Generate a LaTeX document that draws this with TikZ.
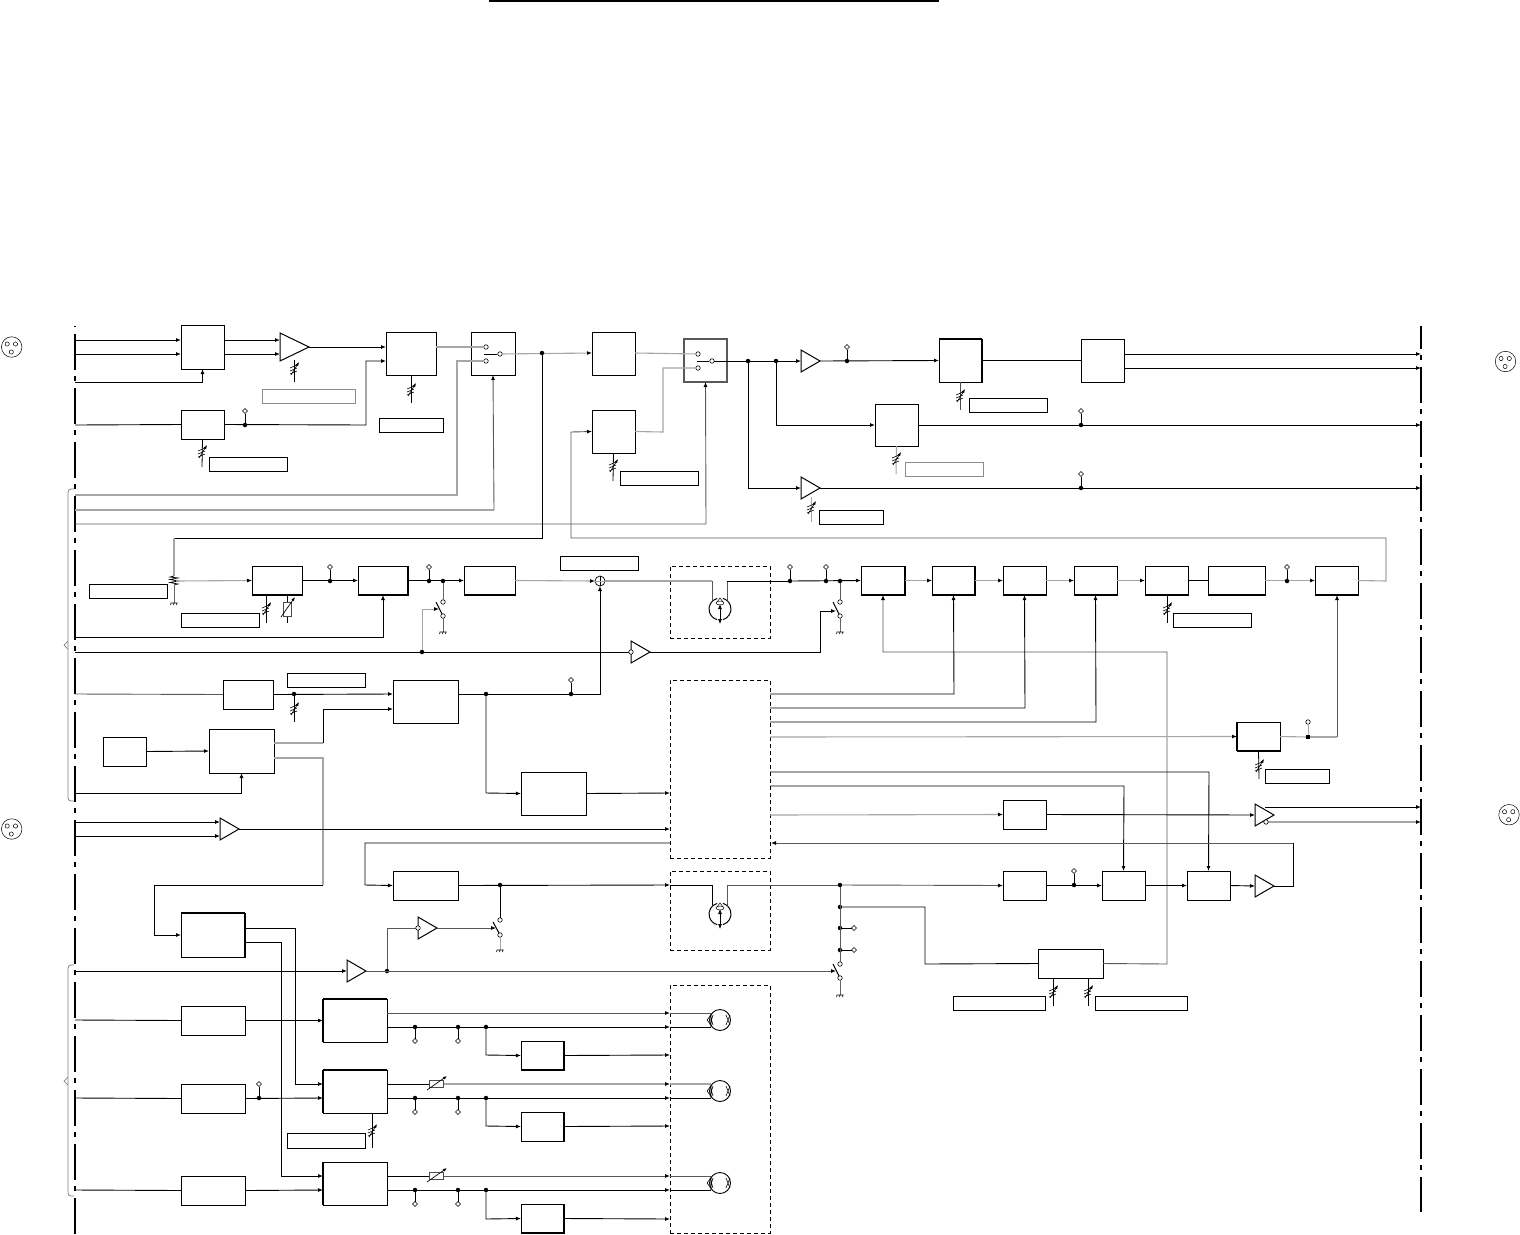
\documentclass[tikz,border=0pt]{standalone}
\usetikzlibrary{arrows.meta,shapes.geometric,calc}
\definecolor{lg}{gray}{0.65}
\definecolor{dg}{gray}{0.35}
\tikzset{
  x=1pt,y=-1pt,
  wk/.style={draw=black,line width=0.9pt},
  wg/.style={draw=lg,line width=1.1pt},
  wd/.style={draw=dg,line width=0.9pt},
  ar/.style={-{Latex[length=5pt,width=4pt,color=black]}},
  bxs/.style={draw=black,line width=0.9pt,rectangle,inner sep=0pt,outer sep=0pt},
  thk/.style={line width=1.3pt},
  lbl/.style={draw=black,line width=0.8pt,rectangle,inner sep=0pt,outer sep=0pt},
  grb/.style={draw=black!45},
  dsh/.style={draw=black,line width=0.8pt,dash pattern=on 4pt off 3pt,rectangle,inner sep=0pt,outer sep=0pt},
  jnn/.style={circle,fill=black,inner sep=0pt,minimum size=4.5pt,outer sep=0pt},
  tmn/.style={diamond,draw=black,fill=white,line width=0.5pt,inner sep=0pt,minimum size=5pt,outer sep=0pt},
  opc/.style={circle,draw=black,fill=white,line width=0.6pt,inner sep=0pt,minimum size=4.5pt,outer sep=0pt},
  trin/.style={isosceles triangle,isosceles triangle stretches,shape border rotate=0,draw=black,line width=1pt,inner sep=0pt,outer sep=0pt,fill=white},
  edge1/.style={draw=black,line width=1.6pt,dash pattern=on 36pt off 6pt on 5pt off 7pt,dash phase=46pt},
  edge2/.style={draw=black,line width=1.1pt,dash pattern=on 36pt off 6pt on 5pt off 7pt,dash phase=13pt},
  brc/.style={draw=black!50,line width=0.8pt,rounded corners=3pt},
  sid/.style={draw=black,line width=1.7pt,line cap=square},
}
\newcommand\bx[6][]{\node[bxs,#1,minimum width={(#5-#3)*1pt},minimum height={(#6-#4)*1pt}] (#2) at ({(#3+#5)/2},{(#4+#6)/2}) {};}
\newcommand\lb[6][]{\node[lbl,#1,minimum width={(#5-#3)*1pt},minimum height={(#6-#4)*1pt}] (#2) at ({(#3+#5)/2},{(#4+#6)/2}) {};}
\newcommand\db[5]{\node[dsh,minimum width={(#4-#2)*1pt},minimum height={(#5-#3)*1pt}] (#1) at ({(#2+#4)/2},{(#3+#5)/2}) {};}
% heavier box sides
\newcommand\botl[1]{\draw[sid] (#1.south west) -- (#1.south east);}
\newcommand\topl[1]{\draw[sid] (#1.north west) -- (#1.north east);}
\newcommand\lefl[1]{\draw[sid] (#1.south west) -- (#1.north west);}
\newcommand\rigl[1]{\draw[sid] (#1.south east) -- (#1.north east);}
% triangle: name, x base, y centre, half height, x apex
\newcommand\trg[5]{\node[trin,minimum width={2*#4*1pt},minimum height={(#5-#2)*1pt},anchor=lower side] (#1) at (#2,#3) {};}
\newcommand\jn[3]{\node[jnn] (#1) at (#2,#3) {};}
\newcommand\stub[5]{\node[jnn] (#1) at (#2,#3) {};\node[tmn] (#1t) at (#4,#5) {};\draw[wk,line width=0.8pt] (#1) -- (#1t);}
\newcommand\opn[3]{\node[opc] (#1) at (#2,#3) {};}
% variable resistor symbol
\newcommand\vrs[2]{\begin{scope}[shift={(#1,#2)}]
  \draw[black,line width=0.6pt] (-4,-1)--(3,-4) (-4,2)--(3,-1) (-4,5)--(3,2);
  \draw[black,line width=0.6pt,-{Latex[length=4pt,width=3pt]}] (-3,6)--(5,-7);
\end{scope}}
% thermistor style box with arrow, horizontal
\newcommand\thm[2]{\begin{scope}[shift={(#1,#2)}]
  \draw[black!70,fill=white,line width=0.7pt] (-7,-3.5) rectangle (7,3.5);
  \draw[black,line width=0.7pt,-{Latex[length=4pt,width=3pt]}] (-9,6)--(11,-8);
\end{scope}}
\newcommand\thmv[2]{\begin{scope}[shift={(#1,#2)}]
  \draw[black!70,fill=white,line width=0.7pt] (-4,-7) rectangle (4,7);
  \draw[black,line width=0.7pt,-{Latex[length=4pt,width=3pt]}] (-6,8)--(8,-12);
\end{scope}}
\newcommand\gnd[2]{\draw[black,line width=0.6pt] (#1-3.5,#2) -- (#1+3.5,#2) (#1-3,#2) -- (#1-3.5,#2+2) (#1,#2) -- (#1-0.5,#2+2) (#1+3,#2) -- (#1+2.5,#2+2);}
% switch: open contacts at y0,y1 on x, blade with control
\newcommand\blade[4]{\draw[black,line width=1pt] (#1,#2) -- (#3,#4);}
\newcommand\mech[3]{\node[circle,inner sep=0pt,minimum size=22pt] (#1) at (#2,#3) {};
  \draw[black,line width=1pt] (#2,#3) ++(105:11pt) arc[start angle=105,end angle=255,radius=11pt];
  \draw[black,line width=1pt] (#2,#3) ++(-75:11pt) arc[start angle=-75,end angle=75,radius=11pt];
  \draw[black,line width=0.5pt] (#2,#3-6) ellipse [x radius=4,y radius=2];
  \draw[black,line width=0.5pt] (#2-3,#3-7)--(#2,#3-11)--(#2+3,#3-7);
  \draw[black,line width=0.7pt,{Latex[length=5pt,width=4pt]}-{Latex[length=5pt,width=4pt]}] (#2,#3-5)--(#2,#3+15);}
\newcommand\crt[3]{\node[circle,draw=black,line width=0.9pt,inner sep=0pt,minimum size=21pt,outer sep=0pt] (#1) at (#2,#3) {};
  \draw[black,line width=0.6pt] (#2-13,#3)--(#2-9,#3-5) (#2-13,#3)--(#2-9,#3+5) (#2-9,#3-7)--(#2-9,#3+7) (#2-10,#3-5)--(#2-7,#3+5) (#2-10,#3+5)--(#2-7,#3-5);
  \draw[black,line width=0.6pt] (#2+6,#3-5)--(#2+10,#3+5) (#2+6,#3+5)--(#2+10,#3-5);}
\newcommand\plug[3]{\node[circle,draw=black,line width=0.5pt,inner sep=0pt,minimum size=20.5pt,outer sep=0pt] (#1) at (#2,#3) {};
  \draw[black,line width=0.5pt] (#2-4.5,#3-3) circle [radius=2.1] (#2+3.8,#3-3) circle [radius=2.1] (#2-0.4,#3+5) circle [radius=2.1];}
\begin{document}
\begin{tikzpicture}
\useasboundingbox (0,0) rectangle (1520,1234);
\fill[white] (0,0) rectangle (1520,1234);
% title rule
\coordinate (ta) at (489,1);\coordinate (tb) at (939,1);
\draw[black,line width=1.4pt] (ta) -- (tb);
% edges
\coordinate (lt) at (75,326);\coordinate (lb) at (75,1234);
\coordinate (rt) at (1421,326);\coordinate (rb) at (1421,1212);
\draw[edge1] (lt) -- (lb);
\draw[edge2] (rt) -- (rb);
% plugs
\plug{p1}{11.7}{347}\plug{p2}{11.7}{829}\plug{p3}{1505.5}{361.5}\plug{p4}{1509}{814.7}
% braces
\draw[brc] (74,489) -- (68,489) -- (68,645);\draw[brc] (68,645) -- (68,801) -- (74,801);
\draw[black!50,line width=0.7pt] (68,641) -- (64,645) -- (68,649);
\draw[brc] (74,965) -- (68,965) -- (68,1081);\draw[brc] (68,1081) -- (68,1196) -- (74,1196);
\draw[black!50,line width=0.7pt] (68,1077) -- (64,1081) -- (68,1085);
% boxes
\bx{b1}{181}{325}{224}{369}
\bx{b2}{181}{410}{224}{439}
\bx{b3}{386}{332}{436}{375}
\bx{sw1}{471}{332}{515}{375}
\bx{b4}{592}{332}{635}{375}
\bx[draw=dg,thk]{sw2}{684}{339}{727}{382}
\bx{b5}{939}{339}{982}{382}
\bx{b6}{1081}{339}{1124}{382}
\bx{b7}{875}{404}{918}{446}
\bx{b8}{592}{410}{635}{453}
\bx{b10}{252}{566}{302}{595}
\bx{b11}{358}{566}{408}{595}
\bx{b12}{464}{566}{515}{595}
\bx{b13}{861}{566}{905}{595}
\bx{b14}{932}{566}{975}{595}
\bx{b15}{1003}{566}{1046}{595}
\bx{b16}{1074}{566}{1117}{595}
\bx{b17}{1145}{566}{1188}{595}
\bx{b18}{1208}{566}{1265}{595}
\bx{b19}{1315}{566}{1358}{595}
\bx{b20}{223}{680}{273}{709}
\bx{b21}{393}{680}{458}{723}
\bx{b22}{103}{737}{146}{766}
\bx{b23}{209}{729}{274}{773}
\bx{b24}{521}{772}{586}{815}
\bx{b25}{1237}{722}{1280}{751}
\bx{b26}{1003}{800}{1046}{829}
\bx{b27}{393}{871}{458}{900}
\bx{b28}{1003}{871}{1046}{900}
\bx{b29}{1102}{871}{1145}{900}
\bx{b30}{1187}{871}{1230}{900}
\bx{b31}{181}{913}{245}{957}
\bx{b32}{1038}{949}{1103}{978}
\bx{b33}{181}{1006}{245}{1035}
\bx{b34}{323}{999}{387}{1042}
\bx{b35}{521}{1041}{564}{1070}
\bx{b36}{181}{1084}{245}{1113}
\bx{b37}{323}{1070}{387}{1113}
\bx{b38}{521}{1112}{564}{1141}
\bx{b39}{181}{1176}{245}{1205}
\bx{b40}{323}{1162}{387}{1205}
\bx{b41}{521}{1204}{564}{1233}
% heavy sides
\topl{b5}\rigl{b5}
\botl{b10}\botl{b11}\rigl{b11}\botl{b12}\botl{b13}\rigl{b13}\botl{b14}\rigl{b14}\botl{b15}\botl{b16}\botl{b17}\botl{b18}\botl{b19}
\botl{b25}\lefl{b25}
\topl{b31}\rigl{b31}\topl{b34}\lefl{b34}\rigl{b35}\botl{b35}\topl{b37}\lefl{b37}\rigl{b38}\lefl{b40}\rigl{b41}\botl{b41}
% label boxes
\lb[grb]{l1}{262}{389}{355}{403}
\lb{l2}{379}{418}{443}{432}
\lb{l3}{209}{457}{287}{471}
\lb{l4}{620}{471}{698}{485}
\lb{l5}{969}{398}{1047}{412}
\lb[grb]{l6}{905}{462}{983}{476}
\lb{l7}{819}{510}{883}{524}
\lb{l8}{89}{584}{167}{598}
\lb{l9}{181}{613}{259}{627}
\lb{l10}{560}{556}{638}{570}
\lb{l11}{1173}{613}{1251}{627}
\lb{l12}{287}{673}{365}{687}
\lb{l13}{1265}{769}{1329}{783}
\lb{l14}{953}{996}{1045}{1010}
\lb{l15}{1095}{996}{1187}{1010}
\lb{l16}{287}{1133}{365}{1148}
% dashed
\db{d1}{670}{566}{770}{638}
\db{d2}{670}{680}{770}{858}
\db{d3}{670}{871}{770}{950}
\db{d4}{670}{985}{770}{1233}
% triangles
\trg{t1}{280}{347}{14}{309}
\trg{t2}{801}{361}{11}{820}
\trg{t3}{801}{488}{11}{820}
\trg{t4}{631}{652}{11}{650}
\trg{t5}{220}{829}{11}{239}
\trg{t6}{1255}{815}{11}{1274}
\trg{t7}{1255}{886}{11}{1274}
\trg{t8}{418}{928}{11}{437}
\trg{t9}{347}{971}{11}{366}
% mech + crt
\mech{m1}{720}{609}
\mech{m2}{720}{914}
\crt{c1}{720}{1020}\crt{c2}{720}{1091}\crt{c3}{720}{1183}
% sum
\node[circle,draw=black,line width=0.7pt,inner sep=0pt,minimum size=10pt,outer sep=0pt] (sum) at (600,581) {};
\draw[black,line width=0.6pt] (sum.north)--(sum.south);
\draw[lg,line width=0.6pt] (sum.west)--(sum.east);
% ---- top wires
\draw[wk,ar] (75,340) -- (0,340 -| b1.west);
\draw[wk,ar] (75,354) -- (0,354 -| b1.west);
\draw[wk,ar] (75,382) -| (b1.south);
\draw[wk,ar] (0,340 -| b1.east) -- (0,340 -| t1.west);
\draw[wk,ar] (0,354 -| b1.east) -- (0,354 -| t1.west);
\draw[wk,ar] (t1.east) -- (0,347 -| b3.west);
\draw[wk] (75,425) -- (b2.west);
\stub{j1}{245}{425}{245}{411}
\draw[wk,ar] (b2.east) -- (366,425) -- (366,361) -- (0,361 -| b3.west);
% sw1
\opn{s1a}{486}{347}\opn{s1b}{486}{361}\opn{s1c}{500}{354}
\blade{484}{354}{497}{354}
\draw[wg,line width=1.4pt] (0,347 -| b3.east) -- (s1a);
\draw[wg] (75,495) -- (457,495) -- (457,361) -- (s1b);
\draw[wg,line width=1.4pt] (75,510) -- (494,510);
\draw[wd,ar] (494,510) -- (494,375 -| sw1.south);
\draw[wd,ar] (75,524) -- (706,524) -- (sw2.south);
\draw[wg,ar] (s1c) -- (0,353 -| b4.west);
\jn{j2}{542}{353}
\draw[wk] (j2) -- (542,538) -- (174,538);
\draw[wg] (174,538) -- (174,576);
\draw[wk,line width=0.7pt] (174,576) -- (170,577) -- (178,578) -- (170,579.5) -- (178,581) -- (170,582.5) -- (178,584) -- (174,585);
\draw[black!60,line width=0.8pt] (174,585) -- (174,603);
\gnd{174}{603}
\draw[wg,ar] (176,581) -- (b10.west);
% sw2
\opn{s2a}{698}{354}\opn{s2b}{698}{368}\opn{s2c}{712}{361}
\blade{697}{361}{709}{361}
\draw[wg] (0,353 -| b4.east) -- (s2a);
\draw[wg] (b8.east) -- (663,432) -- (663,368) -- (s2b);
\jn{j3}{748}{361}\jn{j4}{776}{361}
\draw[wk,ar] (s2c) -- (t2.west);
\draw[wk,ar] (j4) -- (776,425) -- (b7.west);
\draw[wk,ar] (j3) -- (748,488) -- (t3.west);
\draw[wk,ar] (t2.east) -- (b5.west);
\stub{j5}{847}{361}{847}{347}
\draw[wk] (b5.east) -- (b6.west);
\coordinate (r1) at (1421,354);\coordinate (r2) at (1421,368);\coordinate (r3) at (1421,425);\coordinate (r4) at (1421,488);
\draw[wk,ar] (0,354 -| b6.east) -- (r1);
\draw[wk,ar] (0,368 -| b6.east) -- (r2);
\draw[wk,ar] (b7.east) -- (r3);
\stub{j6}{1081}{425}{1081}{411}
\draw[wk,ar] (t3.east) -- (r4);
\stub{j7}{1081}{488}{1081}{474}
\draw[wg] (b19.east) -- (1386,581) -- (1386,538);
\draw[wd,ar] (1386,538) -- (571,538) -- (571,432) -- (b8.west);
% var res top
\draw[black,line width=0.8pt] (294,360) -- (294,382);\vrs{294}{369}
\draw[black,line width=0.8pt] (b3.south) -- (411,403);\vrs{411}{390}
\draw[black,line width=0.8pt] (b2.south) -- (202,467);\vrs{202}{452}
\draw[black,line width=0.8pt] (b8.south) -- (613,481);\vrs{613}{466}
\draw[black!70,line width=0.8pt] (960,382) -- (960,410);\vrs{960}{396}
\draw[lg,line width=1pt] (b7.south) -- (896,474);\vrs{896}{459}
\draw[lg,line width=1pt] (811,497) -- (811,522);\vrs{811}{508}
% ---- row 581
\draw[wk,ar] (b10.east) -- (b11.west);
\stub{j8}{330}{581}{330}{567}
\draw[wk,ar] (b11.east) -- (b12.west);
\stub{j9}{429}{581}{429}{567}
\jn{j10}{443}{581}
\opn{s3a}{443}{602}\opn{s3b}{443}{616}
\draw[black!60,line width=0.8pt] (j10) -- (s3a);
\draw[black,line width=1pt] (442,614) -- (436,602);
\draw[black!60,line width=0.8pt] (s3b) -- (443,632);\gnd{443}{632}
\jn{j11}{422}{652}
\draw[wg,ar,line width=0.9pt] (j11) -- (422,609) -- (439,609);
\draw[wk,ar] (75,637) -| (b11.south);
\draw[black,line width=0.8pt] (266,595) -- (266,623);\vrs{266}{609}
\draw[black,line width=0.8pt] (287,595) -- (287,623);\thmv{287}{609}
\draw[wg,ar] (b12.east) -- (sum.west);
\draw[wg] (sum.east) -- (712,581);
\draw[wd] (712,581) -- (712,600);
\draw[wd] (727,600) -- (727,581);
\draw[wk] (727,581) -- (790,581);
\stub{j12}{790}{581}{790}{567}
\stub{j13}{826}{581}{826}{567}
\jn{j14}{840}{581}
\draw[wk,ar] (j12) -- (b13.west);
\opn{s4a}{840}{602}\opn{s4b}{840}{616}
\draw[wd,line width=0.8pt] (j14) -- (s4a);
\draw[black,line width=1pt] (839,614) -- (833,602);
\draw[black!60,line width=0.8pt] (s4b) -- (840,632);\gnd{840}{632}
\draw[wk,ar] (t4.east) -- (820,652) -- (820,611) -- (836,611);
\draw[wk] (75,652) -- (j11);
\draw[wk] (j11) -- (t4.west);
\opn{s4c}{631}{652}
% chain
\draw[wg,ar] (b13.east) -- (b14.west);
\draw[wg,ar] (b14.east) -- (b15.west);
\draw[wg,ar] (b15.east) -- (b16.west);
\draw[wg,ar] (b16.east) -- (b17.west);
\draw[wk] (b17.east) -- (b18.west);
\draw[black,line width=0.8pt] (1167,595) -- (1167,623);\vrs{1167}{609}
\draw[wg,ar] (b18.east) -- (b19.west);
\stub{j15}{1287}{581}{1287}{567}
% from below
\draw[wd,ar] (b32.east) -- (1167,964) -- (1167,652) -- (883,652) -- (b13.south);
\draw[wk,ar] (770,694) -- (954,694) -- (b14.south);
\draw[wk,ar] (770,708) -- (1025,708) -- (b15.south);
\draw[wk,ar] (770,722) -- (1096,722) -- (b16.south);
\draw[wg,ar] (770,737) -- (b25.west);
\node[rectangle,inner sep=0pt,outer sep=0pt,fill=black,minimum size=4.5pt] (j16) at (1308,737) {};
\node[opc] (j16t) at (1308,722) {};
\draw[lg,line width=1pt] (j16) -- (j16t);
\draw[wg] (b25.east) -- (j16);
\draw[wg] (j16) -- (1337,737);
\fill[black] (j16.south west) rectangle (j16.north east);
\draw[wd,ar] (1337,737) -- (b19.south -| 1337,0);
\draw[black,line width=0.8pt] (b25.south) -- (1259,779);\vrs{1259}{766}
\draw[wk,ar] (770,772) -- (1209,772) -- (b30.north);
\draw[wk,ar] (770,786) -- (1124,786) -- (b29.north);
\draw[wg,ar] (770,815) -- (b26.west);
\draw[wk,ar] (b26.east) -- (t6.west);
\coordinate (r5) at (1421,807);\coordinate (r6) at (1421,822);
\draw[wk,ar] (1265,807) -- (r5);
\draw[wg,ar] (1268,822) -- (r6);
\opn{s5}{1266}{822}
\draw[wk] (t7.east) -- (1293,886) -- (1293,843);
\draw[wd,ar] (1293,843) -- (771,843);
\draw[wk,ar] (b28.east) -- (b29.west);
\stub{j17}{1074}{885}{1074}{871}
\draw[wk,ar] (b29.east) -- (b30.west);
\draw[wk,ar] (b30.east) -- (t7.west);
% lower left
\draw[wd] (75,694) -- (b20.west);
\draw[wk,ar] (b20.east) -- (0,694 -| b21.west);
\jn{j18}{294}{694}
\draw[black,line width=0.8pt] (j18) -- (294,722);\vrs{294}{709}
\draw[wk,ar] (b22.east) -- (b23.west);
\draw[wk,ar] (75,793) -| (b23.south);
\draw[wg] (274,743) -- (323,743);
\draw[wk,ar] (323,743) -- (323,709) -- (393,709);
\draw[wg,line width=1.4pt] (274,758) -- (323,758) -- (323,885);
\draw[wk,ar] (323,885) -- (154,885) -- (154,935) -- (b31.west);
% mid output of b21
\jn{j19}{486}{694}
\node[jnn] (j20) at (571,694) {};\node[tmn] (j20t) at (571,680) {};\draw[wk,line width=0.8pt] (j20) -- (j20t);
\draw[wk,ar] (0,694 -| b21.east) -- (600,694) -- (sum.south);
\draw[wg,line width=1.4pt] (j19) -- (486,793);
\draw[wk,ar] (486,793) -- (b24.west);
\draw[wk,ar] (b24.east) -- (670,793);
\draw[wk,ar] (75,822) -- (0,822 -| t5.west);
\draw[wk,ar] (75,836) -- (0,836 -| t5.west);
\draw[wk,ar] (t5.east) -- (670,829);
\draw[wk,ar] (670,843) -- (365,843) -- (365,885) -- (b27.west);
% row 885
\jn{j21}{500}{885}
\draw[wk,ar] (b27.east) -- (670,885);
\draw[wk] (670,885) -- (712,885) -- (712,905);
\draw[wd] (727,905) -- (727,885);
\draw[wd] (727,885) -- (840,885);
\jn{j22}{840}{885}\jn{j23}{840}{907}
\stub{j24}{840}{928}{854}{928}
\stub{j25}{840}{950}{854}{950}
\draw[wd,ar] (j22) -- (b28.west);
\opn{s6a}{840}{964}\opn{s6b}{840}{978}
\draw[wd,line width=0.8pt] (j22) -- (s6a);
\draw[black,line width=1pt] (839,976) -- (833,964);
\draw[black!60,line width=0.8pt] (s6b) -- (840,995);\gnd{840}{995}
\draw[wk] (j23) -- (925,907) -- (925,964) -- (b32.west);
\draw[black,line width=0.8pt] (1053,978) -- (1053,1006);\vrs{1053}{992}
\draw[black,line width=0.8pt] (1088,978) -- (1088,1006);\vrs{1088}{992}
% second small switch
\opn{s7a}{500}{920}\opn{s7b}{500}{935}
\draw[wk] (j21) -- (s7a);
\draw[black,line width=1pt] (499,933) -- (493,922);
\draw[lg,line width=0.9pt] (s7b) -- (500,950);\gnd{500}{950}
\jn{j26}{387}{971}
\draw[wd,line width=0.8pt] (j26) -- (387,928) -- (t8.west);
\opn{s8}{418}{928}
\draw[wd,ar] (t8.east) -- (496,928);
\draw[wk,ar] (75,971) -- (t9.west);
\draw[wd,ar] (t9.east) -- (836,971);
% b31 outs
\draw[wk,ar] (0,928 -| b31.east) -- (295,928) -- (295,1084) -- (0,1084 -| b37.west);
\draw[wk,ar] (0,942 -| b31.east) -- (281,942) -- (281,1176) -- (0,1176 -| b40.west);
\draw[wk] (75,1020) -- (b33.west);
\draw[wk,ar] (b33.east) -- (b34.west);
\draw[wk] (75,1098) -- (b36.west);
\draw[wk,ar] (b36.east) -- (0,1098 -| b37.west);
\stub{j27}{259}{1098}{259}{1084}
\draw[wk] (75,1190) -- (b39.west);
\draw[wk,ar] (b39.east) -- (0,1190 -| b40.west);
% crt 1
\draw[wd,ar] (0,1013 -| b34.east) -- (670,1013);\draw[wd] (670,1013) -- (711,1013);
\draw[wk,ar] (0,1027 -| b34.east) -- (670,1027);\draw[wk] (670,1027) -- (711,1027);
\stub{j28}{415}{1027}{415}{1041}\stub{j29}{458}{1027}{458}{1041}\jn{j30}{486}{1027}
\draw[wk,ar] (j30) -- (486,1055) -- (b35.west);
\draw[wk,ar] (b35.east) -- (670,1055);
% crt 2
\draw[wk] (0,1084 -| b37.east) -- (429,1084);
\draw[wg,ar] (443,1084) -- (670,1084);\draw[wg] (670,1084) -- (711,1084);
\draw[wk,ar] (0,1098 -| b37.east) -- (670,1098);\draw[wk] (670,1098) -- (711,1098);
\stub{j31}{415}{1098}{415}{1112}\stub{j32}{458}{1098}{458}{1112}\jn{j33}{486}{1098}
\draw[wk,ar] (j33) -- (486,1126) -- (b38.west);
\draw[wk,ar] (b38.east) -- (670,1126);
\draw[black,line width=0.8pt] (372,1113) -- (372,1148);\vrs{372}{1131}
\thm{436}{1084}
% crt 3
\draw[wk] (0,1176 -| b40.east) -- (429,1176);
\draw[wd,ar] (443,1176) -- (670,1176);\draw[wd] (670,1176) -- (711,1176);
\draw[wk,ar] (0,1190 -| b40.east) -- (670,1190);\draw[wk] (670,1190) -- (711,1190);
\stub{j34}{415}{1190}{415}{1204}\stub{j35}{458}{1190}{458}{1204}\jn{j36}{486}{1190}
\draw[wk,ar] (j36) -- (486,1219) -- (b41.west);
\draw[wk,ar] (b41.east) -- (670,1219);
\thm{436}{1176}
\end{tikzpicture}
\end{document}
